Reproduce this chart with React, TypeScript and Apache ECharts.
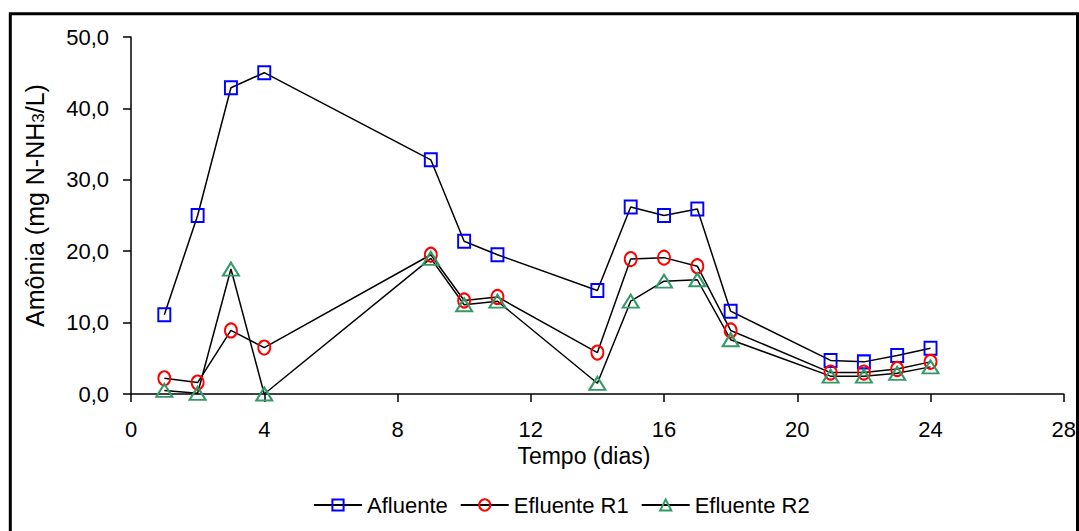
import React, { useEffect, useRef } from "react";
import * as echarts from "echarts";

// Sampling days
const days = [1, 2, 3, 4, 9, 10, 11, 14, 15, 16, 17, 18, 21, 22, 23, 24];

// Ammonia concentration (mg N-NH3/L)
const afluente = [11.1, 25.0, 42.9, 45.0, 32.8, 21.4, 19.5, 14.5, 26.2, 25.0, 25.9, 11.6, 4.7, 4.5, 5.4, 6.4];
const efluenteR1 = [2.2, 1.6, 8.9, 6.5, 19.5, 13.1, 13.6, 5.8, 18.9, 19.1, 17.9, 8.9, 3.0, 3.0, 3.5, 4.5];
const efluenteR2 = [0.5, 0.1, 17.5, 0.0, 19.0, 12.5, 13.0, 1.5, 13.0, 15.8, 16.0, 7.6, 2.5, 2.5, 2.9, 3.8];

const seriesNames = ["Afluente", "Efluente R1", "Efluente R2"];

// Axis ranges and steps
const xRange = [0, 28];
const xStep = 4;
const yRange = [0, 50];
const yStep = 10;

const FONT = "Liberation Sans, Arial, sans-serif";

const pairs = (ys: number[]) => days.map((d, i) => [d, ys[i]]);

export default function App() {
  const ref = useRef<HTMLDivElement>(null);

  useEffect(() => {
    if (!ref.current) return;
    const chart = echarts.init(ref.current, undefined, { renderer: "svg" });

    const lineSeries = (
      name: string,
      ys: number[],
      symbol: string,
      symbolSize: number[],
      color: string
    ) => ({
      name,
      type: "line",
      data: pairs(ys),
      symbol,
      symbolSize,
      showAllSymbol: true,
      lineStyle: { color: "#000", width: 1.5 },
      itemStyle: { color: "rgba(255,255,255,0)", borderColor: color, borderWidth: 2 },
      emphasis: { disabled: true },
    });

    chart.setOption({
      animation: false,
      backgroundColor: "#fff",
      textStyle: { fontFamily: FONT },
      grid: { left: 131, right: 15, top: 37, bottom: 137, containLabel: false },
      xAxis: {
        type: "value",
        min: xRange[0],
        max: xRange[1],
        interval: xStep,
        name: "Tempo (dias)",
        nameLocation: "middle",
        nameGap: 49,
        nameTextStyle: { fontSize: 23, color: "#000", fontFamily: FONT, padding: [0, 27, 0, 0] },
        axisLine: { lineStyle: { color: "#000", width: 1.5 } },
        axisTick: { show: true, inside: false, length: 8, lineStyle: { color: "#000", width: 1.5 } },
        axisLabel: { fontSize: 22, color: "#000", margin: 24, fontFamily: FONT },
        splitLine: { show: false },
      },
      yAxis: {
        type: "value",
        min: yRange[0],
        max: yRange[1],
        interval: yStep,
        name: "{n|Amônia (mg N-NH}{s|3}{n|/L)}",
        nameLocation: "middle",
        nameGap: 84,
        nameRotate: 90,
        nameTextStyle: {
          color: "#000",
          fontFamily: FONT,
          padding: [0, 0, 0, 20],
          rich: {
            n: { fontSize: 25, color: "#000", fontFamily: FONT },
            s: { fontSize: 17, color: "#000", fontFamily: FONT, padding: [8, 0, 0, 0] },
          },
        },
        axisLine: { show: true, lineStyle: { color: "#000", width: 1.5 } },
        axisTick: { show: true, inside: false, length: 8, lineStyle: { color: "#000", width: 1.5 } },
        axisLabel: {
          fontSize: 22,
          color: "#000",
          margin: 22,
          fontFamily: FONT,
          formatter: (v: number) => v.toFixed(1).replace(".", ","),
        },
        splitLine: { show: false },
      },
      legend: {
        data: seriesNames,
        left: 308,
        top: 489,
        itemWidth: 48,
        itemHeight: 14,
        itemGap: 12,
        textStyle: { fontSize: 22, color: "#000", fontFamily: FONT },
      },
      graphic: [
        {
          type: "rect",
          shape: { x: 10.3, y: 13.8, width: 1067.2, height: 600 },
          style: { fill: "none", stroke: "#000", lineWidth: 3 },
          silent: true,
          z: 100,
        },
      ],
      series: [
        lineSeries(seriesNames[0], afluente, "rect", [12, 13], "#0000ff"),
        lineSeries(seriesNames[1], efluenteR1, "circle", [12, 14], "#ff0000"),
        lineSeries(seriesNames[2], efluenteR2, "triangle", [16, 13], "#339966"),
      ],
    });

    return () => chart.dispose();
  }, []);

  return (
    <div
      ref={ref}
      style={{ position: "fixed", left: 0, top: 0, width: 1079, height: 531, background: "#fff" }}
    />
  );
}
